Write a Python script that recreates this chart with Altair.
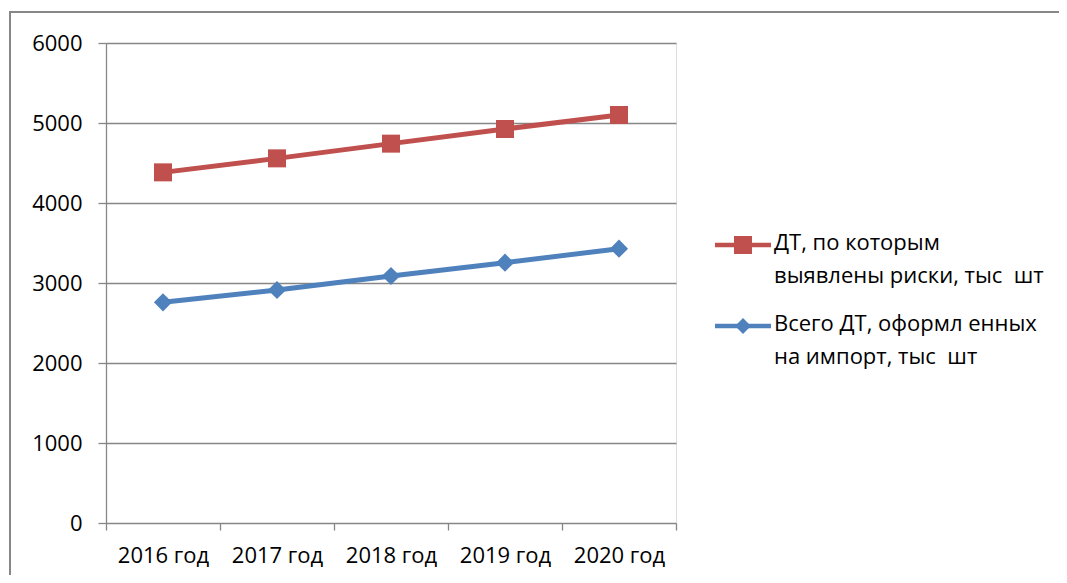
import altair as alt
import pandas as pd

years = ["2016 год", "2017 год", "2018 год", "2019 год", "2020 год"]
risks = [4383, 4558, 4742, 4925, 5100]
total = [2758, 2913, 3088, 3254, 3429]
series_names = ["ДТ, по которым\nвыявлены риски, тыс \u00a0шт",
                "Всего ДТ, оформл енных\nна импорт, тыс \u00a0шт"]
series_keys = ["risks", "total"]
colors = ["#C0504D", "#4F81BD"]
y_ticks = [0, 1000, 2000, 3000, 4000, 5000, 6000]

FONT = "Open Sans"
FS = 22
GRID = "#868686"

rows = []
for i, y in enumerate(years):
    rows.append({"year": y, "pos": i + 0.5, "series": series_keys[0], "value": risks[i]})
    rows.append({"year": y, "pos": i + 0.5, "series": series_keys[1], "value": total[i]})
df = pd.DataFrame(rows)

label_expr = "datum.value < 5 ? " + str(years) + "[datum.value] : ''"

x_enc = alt.X("pos:Q",
              scale=alt.Scale(domain=[0, 5], nice=False, zero=False),
              axis=alt.Axis(values=[0, 1, 2, 3, 4, 5], labelExpr=label_expr,
                            labelOffset=57, title=None, grid=False,
                            labelOverlap=False, labelBound=False, labelFlush=False,
                            labelAlign="center",
                            tickSize=7, tickColor=GRID, tickWidth=1.3,
                            domain=False, labelFont=FONT, labelFontSize=FS,
                            labelColor="#000000", labelPadding=15,
                            labelBaseline="top"))
y_enc = alt.Y("value:Q",
              scale=alt.Scale(domain=[0, 6000], nice=False),
              axis=alt.Axis(values=y_ticks, title=None, grid=True, format="d",
                            gridColor=GRID, gridWidth=1.3,
                            tickSize=8, tickColor=GRID, tickWidth=1.3,
                            domainColor=GRID, domainWidth=1.3,
                            labelFont=FONT, labelFontSize=FS,
                            labelColor="#000000", labelPadding=16))
color_enc = alt.Color("series:N",
                      scale=alt.Scale(domain=series_keys, range=colors),
                      legend=None)

base = alt.Chart(df)
lines = base.mark_line(strokeWidth=5).encode(x=x_enc, y=y_enc, color=color_enc,
                                              detail="series:N")
sq = base.transform_filter(alt.datum.series == "risks").mark_square(
    size=324, opacity=1, color=colors[0]).encode(x="pos:Q", y="value:Q")
dia = base.transform_filter(alt.datum.series == "total").mark_point(
    shape="diamond", size=330, filled=True, opacity=1, color=colors[1]).encode(
    x="pos:Q", y="value:Q")

one = pd.DataFrame({"a": [0]})
frame_top = alt.Chart(one).mark_rule(stroke="#878787", strokeWidth=2).encode(
    x=alt.value(-97), x2=alt.value(1000), y=alt.value(-31))
frame_left = alt.Chart(one).mark_rule(stroke="#878787", strokeWidth=2).encode(
    x=alt.value(-96), y=alt.value(-32), y2=alt.value(1000))

# custom legend
leg_layers = []
leg_y = [202, 283]
shapes = ["square", "diamond"]
sizes = [324, 250]
for k in range(2):
    d = pd.DataFrame({"label": [series_names[k]]})
    c = alt.Chart(d)
    leg_layers.append(c.mark_rule(strokeWidth=4.5, color=colors[k]).encode(
        x=alt.value(609), x2=alt.value(665), y=alt.value(leg_y[k])))
    leg_layers.append(c.mark_point(shape=shapes[k], size=sizes[k], filled=True,
                                   opacity=1, color=colors[k]).encode(
        x=alt.value(637), y=alt.value(leg_y[k])))
    leg_layers.append(c.mark_text(align="left", baseline="top", lineBreak="\n",
                                  lineHeight=33, font=FONT, fontSize=FS,
                                  color="#000000").encode(
        x=alt.value(668), y=alt.value(leg_y[k] - 12), text="label:N"))

chart = alt.layer(frame_top, frame_left, lines, sq, dia, *leg_layers).properties(
    width=570, height=480,
    autosize=alt.AutoSizeParams(type="none"),
    padding={"left": 98, "top": 35, "right": 383, "bottom": 52},
).configure_view(stroke=None).configure(background="#ffffff")

chart.save("out.html", embed_options={"renderer": "svg", "actions": False})
